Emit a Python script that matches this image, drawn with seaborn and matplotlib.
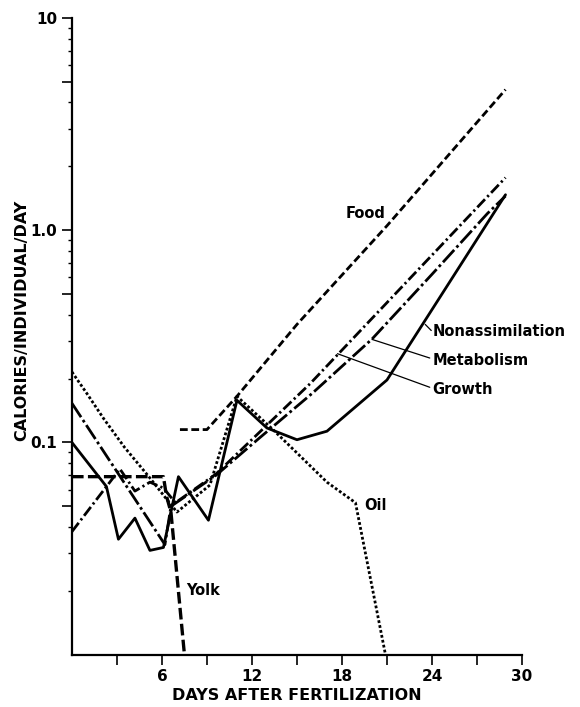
import numpy as np
import pandas as pd
import matplotlib
matplotlib.use("Agg")
import matplotlib.pyplot as plt
import matplotlib.ticker as mticker
import seaborn as sns

# ── data (days after fertilization, calories/individual/day) ──
food_day = [7.2, 9.0, 11.0, 15.0, 21.0, 28.9]
food_cal = [0.115, 0.115, 0.165, 0.36, 1.05, 4.6]

nonassim_day = [0, 2.3, 3.1, 4.2, 5.2, 6.1, 7.1, 9.1, 11.0, 13.0, 15.0, 17.0, 21.0, 28.9]
nonassim_cal = [0.100, 0.062, 0.035, 0.044, 0.031, 0.032, 0.069, 0.043, 0.158, 0.117,
                0.103, 0.113, 0.197, 1.47]

metab_day = [0, 6.2, 6.6, 9.6, 12.5, 16.0, 20.0, 24.0, 27.7, 28.9]
metab_cal = [0.153, 0.033, 0.050, 0.070, 0.105, 0.17, 0.307, 0.62, 1.2, 1.45]

growth_day = [0, 3.2, 4.2, 5.2, 6.1, 6.9, 9.6, 15.9, 28.9]
growth_cal = [0.038, 0.075, 0.059, 0.065, 0.061, 0.052, 0.071, 0.19, 1.77]

oil_day = [0, 1.0, 2.1, 3.5, 5.2, 6.5, 7.0, 9.2, 11.0, 13.4, 17.0, 18.9, 20.9]
oil_cal = [0.215, 0.17, 0.13, 0.095, 0.068, 0.052, 0.047, 0.063, 0.165, 0.115,
           0.065, 0.052, 0.010]

yolk_day = [0, 6.1, 6.3, 6.6, 7.5]
yolk_cal = [0.069, 0.069, 0.056, 0.047, 0.010]

x_ticks = [3, 6, 9, 12, 15, 18, 21, 24, 27, 30]
x_labels = ["", "6", "", "12", "", "18", "", "24", "", "30"]
y_major = [0.05, 0.1, 0.5, 1, 5, 10]
y_labels = ["", "0.1", "", "1.0", "", "10"]

# ── style ────────────────────────────────────────────────────────────────────
sns.set_style("ticks")
plt.rcParams["font.family"] = ["DejaVu Sans"]
plt.rcParams["font.weight"] = "bold"

fig = plt.figure(figsize=(5.8, 7.07), dpi=100)
ax = fig.add_axes([0.124, 0.074, 0.776, 0.9005])

series = [
    (food_day, food_cal, (0, (2.8, 1.3)), 2.0),
    (nonassim_day, nonassim_cal, "solid", 2.0),
    (metab_day, metab_cal, (0, (6, 1.2, 1, 1.2)), 2.0),
    (growth_day, growth_cal, (0, (4, 1.2, 0.8, 1.2)), 2.0),
    (oil_day, oil_cal, (0, (1.0, 0.8)), 2.0),
    (yolk_day, yolk_cal, (0, (3.5, 1.3)), 2.4),
]
for days, cals, ls, lw in series:
    df = pd.DataFrame({"day": days, "cal": cals})
    sns.lineplot(data=df, x="day", y="cal", ax=ax, color="black",
                 linestyle=ls, linewidth=lw, estimator=None, sort=False)

ax.set_yscale("log")
ax.set_xlim(0, 30)
ax.set_ylim(0.01, 10)

ax.xaxis.set_major_locator(mticker.FixedLocator(x_ticks))
ax.set_xticklabels(x_labels)
ax.yaxis.set_major_locator(mticker.FixedLocator(y_major))
ax.yaxis.set_major_formatter(mticker.FixedFormatter(y_labels))
ax.yaxis.set_minor_locator(mticker.LogLocator(base=10, subs=[2, 3, 4, 6, 7, 8, 9]))
ax.yaxis.set_minor_formatter(mticker.NullFormatter())

ax.tick_params(axis="both", which="major", direction="out", length=7, width=1.2,
               labelsize=11, colors="black")
ax.tick_params(axis="y", which="minor", direction="out", length=3, width=1.0,
               colors="black")
ax.tick_params(axis="x", which="minor", length=0)
for lab in ax.get_xticklabels() + ax.get_yticklabels():
    lab.set_fontweight("bold")

sns.despine(ax=ax)
for side in ["left", "bottom"]:
    ax.spines[side].set_linewidth(1.6)
    ax.spines[side].set_color("black")

ax.set_xlabel("DAYS AFTER FERTILIZATION", fontsize=11.5, fontweight="bold",
              color="black", labelpad=3)
ax.set_ylabel("CALORIES/INDIVIDUAL/DAY", fontsize=11.5, fontweight="bold",
              color="black")
ax.yaxis.set_label_coords(-0.095, 0.525)

# ── curve labels with leader lines ───────────────────────────────────────────
txt = dict(fontsize=10.5, fontweight="bold", color="black", va="center")
ax.text(20.9, 1.2, "Food", ha="right", **txt)
ax.text(24.05, 0.335, "Nonassimilation", ha="left", **txt)
ax.text(24.05, 0.244, "Metabolism", ha="left", **txt)
ax.text(24.05, 0.177, "Growth", ha="left", **txt)
ax.text(19.5, 0.0506, "Oil", ha="left", **txt)
ax.text(7.6, 0.0201, "Yolk", ha="left", **txt)

ax.plot([23.55, 23.95], [0.36, 0.337], color="black", lw=0.9)
ax.plot([20.0, 23.85], [0.306, 0.25], color="black", lw=0.9)
ax.plot([17.7, 23.85], [0.262, 0.182], color="black", lw=0.9)

fig.savefig("out.png", dpi=100)
plt.close(fig)
